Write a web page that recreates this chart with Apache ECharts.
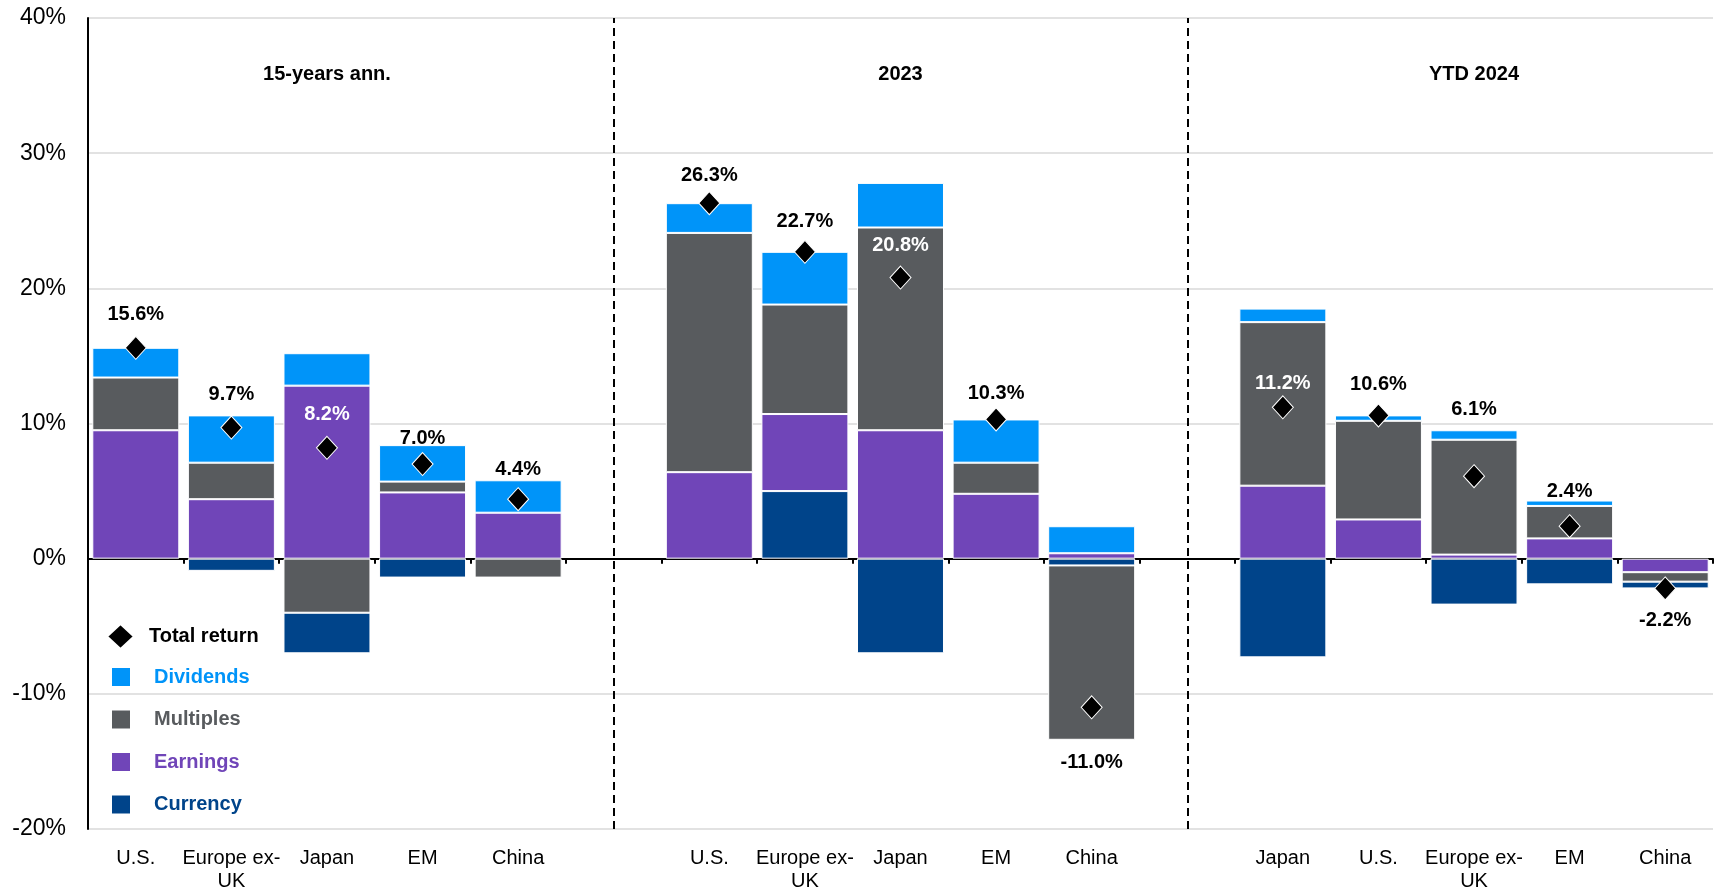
<!DOCTYPE html>
<html>
<head>
<meta charset="utf-8">
<title>Return decomposition</title>
<script src="https://cdn.jsdelivr.net/npm/echarts@6/dist/echarts.min.js"></script>
<style>
  html, body { margin: 0; padding: 0; background: #fff; }
  #chartContainer { width: 1729px; height: 893px; }
</style>
</head>
<body>
<div id="chartContainer"></div>
<script>
// Categories: three periods with an empty slot between them
const categories = [
  "U.S.", "Europe ex-\nUK", "Japan", "EM", "China", "",
  "U.S.", "Europe ex-\nUK", "Japan", "EM", "China", "",
  "Japan", "U.S.", "Europe ex-\nUK", "EM", "China"
];
const periodTitles = [
  "", "", "15-years ann.", "", "", "",
  "", "", "2023", "", "", "",
  "", "", "YTD 2024", "", ""
];
const gapSlots = [5, 11];

// Return components (%), stacked in this order away from zero
const currencyInner = [null, -0.9, null, -1.4, null, null, null, 5.0, -7.0, null, -0.5, null, -7.3, null, -3.4, -1.9, null];
const earnings = [9.5, 4.4, 12.8, 4.9, 3.4, null, 6.4, 5.7, 9.5, 4.8, 0.4, null, 5.4, 2.9, 0.3, 1.5, -1.0];
const multiples = [3.9, 2.7, -4.0, 0.8, -1.4, null, 17.7, 8.1, 15.0, 2.3, -12.9, null, 12.1, 7.3, 8.5, 2.4, -0.7];
const currencyOuter = [null, null, -3.0, null, null, null, null, null, null, null, null, null, null, null, null, null, -0.5];
const dividends = [2.2, 3.5, 2.4, 2.7, 2.4, null, 2.2, 3.9, 3.3, 3.2, 2.0, null, 1.0, 0.4, 0.7, 0.4, null];
const totalReturn = [15.6, 9.7, 8.2, 7.0, 4.4, null, 26.3, 22.7, 20.8, 10.3, -11.0, null, 11.2, 10.6, 6.1, 2.4, -2.2];

const COLORS = {
  dividends: "#0094f9",
  multiples: "#585b5e",
  earnings: "#7045b8",
  currency: "#00448a"
};
const FONT = "'Liberation Sans', Arial, sans-serif";

// How far each total-return label sits above (+) or below (-) its marker
const LABEL_LIFT = { 0: 33, 1: 33, 2: 33, 3: 26, 4: 30, 6: 28, 7: 30, 8: 32, 9: 26, 10: -55, 12: 24, 13: 31, 14: 67, 15: 35, 16: -32 };
const WHITE_LABELS = [2, 8, 12];

function makeBarSeries(name, data, color) {
  return {
    name: name,
    type: "bar",
    stack: "total",
    data: data,
    barCategoryGap: "9%",
    itemStyle: { color: color, borderColor: "#fff", borderWidth: 1 },
    z: 2
  };
}

function buildTotalReturnData() {
  return totalReturn.map(function (v, i) {
    if (v === null) return null;
    return {
      value: v,
      label: {
        offset: [0, -LABEL_LIFT[i]],
        color: WHITE_LABELS.indexOf(i) >= 0 ? "#fff" : "#000"
      }
    };
  });
}

function drawChart() {
  const chart = echarts.init(document.getElementById("chartContainer"));

  chart.setOption({
    animation: false,
    textStyle: { fontFamily: FONT },
    grid: { left: 88, right: 16, top: 18, bottom: 59 },
    legend: [
      {
        orient: "vertical",
        left: 101,
        top: 618,
        itemWidth: 27,
        itemHeight: 25,
        selectedMode: false,
        data: [{ name: "Total return", icon: "diamond" }],
        textStyle: { fontSize: 20, fontWeight: "bold", color: "#000", padding: [0, 0, 0, 10] }
      },
      {
        orient: "vertical",
        left: 105,
        top: 661,
        itemWidth: 20,
        itemHeight: 20,
        itemGap: 20.5,
        icon: "rect",
        selectedMode: false,
        data: [
          { name: "Dividends", textStyle: { color: COLORS.dividends } },
          { name: "Multiples", textStyle: { color: COLORS.multiples } },
          { name: "Earnings", textStyle: { color: COLORS.earnings } },
          { name: "Currency", textStyle: { color: COLORS.currency } }
        ],
        textStyle: { fontSize: 20, fontWeight: "bold", padding: [0, 0, 0, 18] }
      }
    ],
    xAxis: [
      {
        // category names along the bottom of the plot
        type: "category",
        data: categories,
        position: "bottom",
        axisLine: { show: false, onZero: false },
        axisTick: { show: false },
        axisLabel: { interval: 0, fontSize: 20, color: "#000", margin: 18, lineHeight: 23 }
      },
      {
        // zero line with its ticks
        type: "category",
        data: categories,
        position: "bottom",
        axisLine: { onZero: true, lineStyle: { color: "#000", width: 2 } },
        axisTick: { show: true, length: 5, lineStyle: { color: "#000", width: 2 } },
        axisLabel: { show: false }
      },
      {
        // period titles near the top
        type: "category",
        data: periodTitles,
        position: "top",
        axisLine: { show: false },
        axisTick: { show: false },
        axisLabel: { inside: true, interval: 0, margin: 46, fontSize: 20, fontWeight: "bold", color: "#000" }
      }
    ],
    yAxis: {
      type: "value",
      min: -20,
      max: 40,
      interval: 10,
      axisLine: { show: true, onZero: false, lineStyle: { color: "#000", width: 2 } },
      axisTick: { show: false },
      axisLabel: { formatter: "{value}%", fontSize: 23, color: "#000", margin: 22 },
      splitLine: { lineStyle: { color: "#d9d9d9", width: 1.5 } }
    },
    series: [
      makeBarSeries("Currency", currencyInner, COLORS.currency),
      makeBarSeries("Earnings", earnings, COLORS.earnings),
      makeBarSeries("Multiples", multiples, COLORS.multiples),
      makeBarSeries("Currency", currencyOuter, COLORS.currency),
      makeBarSeries("Dividends", dividends, COLORS.dividends),
      {
        name: "Total return",
        type: "scatter",
        data: buildTotalReturnData(),
        symbol: "diamond",
        symbolSize: [21, 23],
        itemStyle: { color: "#000", opacity: 1, borderColor: "#fff", borderWidth: 1 },
        label: {
          show: true,
          position: "inside",
          fontSize: 20,
          fontWeight: "bold",
          formatter: function (p) { return p.value.toFixed(1) + "%"; }
        },
        z: 5,
        markLine: {
          silent: true,
          symbol: ["none", "none"],
          label: { show: false },
          lineStyle: { color: "#000", type: [8, 5], width: 2 },
          data: gapSlots.map(function (i) { return { xAxis: i }; })
        }
      }
    ]
  });
}

drawChart();
</script>
</body>
</html>
